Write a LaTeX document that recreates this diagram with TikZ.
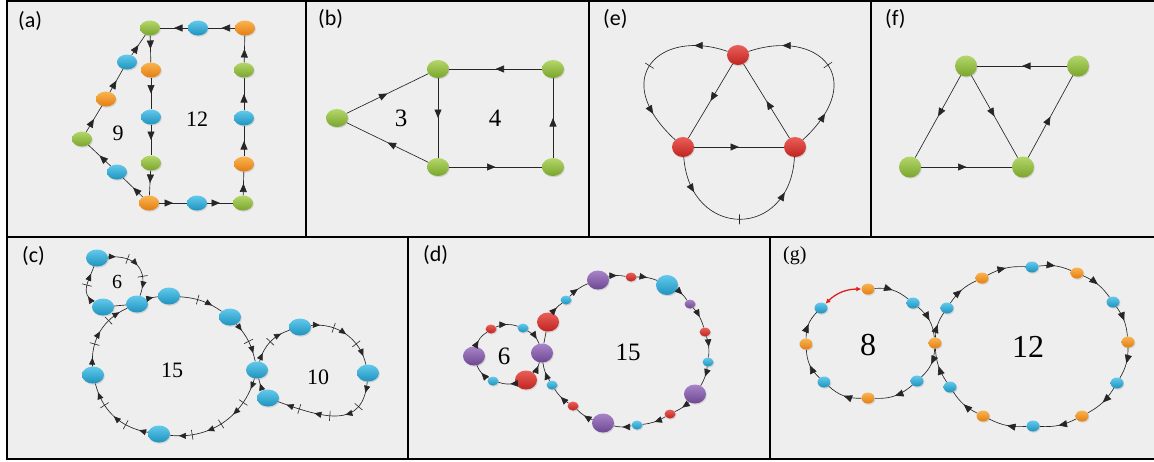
\documentclass[tikz,border=0pt]{standalone}
\usepackage{fontspec}
\setmainfont{Liberation Serif}
\newfontfamily\lblfont{Carlito}
\usetikzlibrary{shapes.geometric,arrows.meta,decorations.markings,shadows}
\definecolor{bg}{HTML}{EEEEEE}
\definecolor{grT}{HTML}{B4D76A}\definecolor{grB}{HTML}{79A52B}
\definecolor{cyT}{HTML}{62C9EC}\definecolor{cyB}{HTML}{1E93BE}
\definecolor{orT}{HTML}{F9B552}\definecolor{orB}{HTML}{E47D10}
\definecolor{rdT}{HTML}{EA5F58}\definecolor{rdB}{HTML}{C02320}
\definecolor{puT}{HTML}{A784C8}\definecolor{puB}{HTML}{6E4792}
\definecolor{redarr}{HTML}{E01E1E}
\def\arl{8.5pt}\def\arwd{7pt}
\newcommand\myarw{\arrow{Triangle[length=\arl,width=\arwd]}}
\newcommand\mytck{\draw[line width=0.6pt] (0pt,-5pt)--(0pt,5pt);}
\tikzset{
  shd/.style={drop shadow={opacity=0.25,shadow xshift=0.8pt,shadow yshift=-1.2pt}},
  fgreen/.style={shd,top color=grT,bottom color=grB,draw=none},
  fcyan/.style={shd,top color=cyT,bottom color=cyB,draw=none},
  forange/.style={shd,top color=orT,bottom color=orB,draw=none},
  fred/.style={shd,top color=rdT,bottom color=rdB,draw=none},
  fpurple/.style={shd,top color=puT,bottom color=puB,draw=none},
  na/.style={ellipse,inner sep=0pt,minimum width=20pt,minimum height=15pt},
  nb/.style={ellipse,inner sep=0pt,minimum width=22pt,minimum height=18pt},
  ne/.style={ellipse,inner sep=0pt,minimum width=22pt,minimum height=20pt},
  nf/.style={ellipse,inner sep=0pt,minimum width=22pt,minimum height=21pt},
  nc/.style={ellipse,inner sep=0pt,minimum width=22pt,minimum height=17pt},
  dbig/.style={ellipse,inner sep=0pt,minimum width=22pt,minimum height=19pt},
  dsm/.style={ellipse,inner sep=0pt,minimum width=11pt,minimum height=9pt},
  gs/.style={ellipse,inner sep=0pt,minimum width=13pt,minimum height=11pt},
  ed/.style={line width=0.65pt,draw=black!85},
  frame/.style={line width=2pt,draw=black},
  plab/.style={anchor=base west,inner sep=0pt,font=\lblfont\fontsize{22}{26}\selectfont},
  numtxt/.style={inner sep=0pt,font=\fontsize{#1}{#1}\selectfont},
  m1/.style={postaction={decorate},decoration={markings,mark=at position #1 with {\myarw}}},
  m1/.default=0.5,
  m2/.style={postaction={decorate},decoration={markings,
     mark=at position 0.4 with {\mytck},mark=at position 0.75 with {\myarw}}},
  m3/.style={postaction={decorate},decoration={markings,
     mark=at position 0.2 with {\myarw},mark=at position 0.5 with {\mytck},
     mark=at position 0.8 with {\myarw}}},
  m5/.style={postaction={decorate},decoration={markings,
     mark=at position 0.12 with {\myarw},mark=at position 0.31 with {\mytck},
     mark=at position 0.5 with {\myarw},mark=at position 0.69 with {\mytck},
     mark=at position 0.88 with {\myarw}}},
  m7/.style={postaction={decorate},decoration={markings,
     mark=at position 0.1 with {\myarw},mark=at position 0.24 with {\mytck},
     mark=at position 0.38 with {\myarw},mark=at position 0.52 with {\mytck},
     mark=at position 0.66 with {\myarw},mark=at position 0.8 with {\mytck},
     mark=at position 0.92 with {\myarw}}},
}
\begin{document}
\begin{tikzpicture}[x=1pt,y=1pt]
\useasboundingbox (0,0) rectangle (1154,-461);
\fill[white] (0,0) rectangle (1154,-461);
\fill[bg] (7,-1) rectangle (1154,-459);
% frame
\draw[frame] (1154,-1) -- (7,-1) -- (7,-459) -- (1154,-459);
\draw[frame] (7,-237) -- (1154,-237);
\draw[frame] (306,-1) -- (306,-237);
\draw[frame] (589,-1) -- (589,-237);
\draw[frame] (871,-1) -- (871,-237);
\draw[frame] (408,-237) -- (408,-459);
\draw[frame] (770,-237) -- (770,-459);
% panel labels
\node[plab] (la) at (18,-27) {(a)};
\node[plab] (lb) at (318,-25) {(b)};
\node[plab] (le) at (603,-25) {(e)};
\node[plab] (lf) at (885,-25) {(f)};
\node[plab] (lc) at (22,-262) {(c)};
\node[plab] (ld) at (423,-261) {(d)};
\node[anchor=base west,inner sep=0pt,font=\fontsize{20}{24}\selectfont] (lg) at (783,-260) {(g)};

% ---------------- (a)
\node[na,fgreen] (a1) at (150,-28) {};
\node[na,fcyan] (a2) at (198,-28) {};
\node[na,forange] (a3) at (245,-28) {};
\node[na,fgreen] (a4) at (244,-70) {};
\node[na,fcyan] (a5) at (244,-118) {};
\node[na,forange] (a6) at (244,-164) {};
\node[na,fgreen] (a7) at (243,-203) {};
\node[na,fcyan] (a8) at (197,-203) {};
\node[na,forange] (a9) at (149,-203) {};
\node[na,forange] (a10) at (151,-70) {};
\node[na,fcyan] (a11) at (151,-117) {};
\node[na,fgreen] (a12) at (151,-163) {};
\node[na,fcyan] (a13) at (127,-62) {};
\node[na,forange] (a14) at (106,-99) {};
\node[na,fgreen] (a15) at (82,-139) {};
\node[na,fcyan] (a16) at (117,-172) {};
\foreach \u/\v in {a3/a2,a2/a1,a1/a10,a10/a11,a11/a12,a12/a9,a9/a8,a8/a7,a7/a6,a6/a5,a5/a4,a4/a3,a9/a16,a16/a15,a15/a14,a14/a13,a13/a1}
  \draw[ed,m1] (\u) -- (\v);
\node[numtxt=22] (t9) at (118,-133) {9};
\node[numtxt=22] (t12a) at (197,-119) {12};

% ---------------- (b)
\node[nb,fgreen] (b1) at (337,-118) {};
\node[nb,fgreen] (b2) at (438,-69) {};
\node[nb,fgreen] (b3) at (553,-69) {};
\node[nb,fgreen] (b4) at (438,-167) {};
\node[nb,fgreen] (b5) at (553,-167) {};
\foreach \u/\v in {b1/b2,b2/b4,b4/b1,b4/b5,b5/b3,b3/b2}
  \draw[ed,m1] (\u) -- (\v);
\node[numtxt=25] (t3) at (401,-118) {3};
\node[numtxt=25] (t4) at (495,-118) {4};

% ---------------- (e)
\node[ne,fred] (e1) at (738,-55) {};
\node[ne,fred] (e2) at (683,-147) {};
\node[ne,fred] (e3) at (795,-147) {};
\foreach \u/\v in {e1/e2,e2/e3,e3/e1}
  \draw[ed,m1] (\u) -- (\v);
\draw[ed,m3] (e1) .. controls (660,-28) and (608,-78) .. (e2);
\draw[ed,m3] (e3) .. controls (870,-78) and (818,-28) .. (e1);
\draw[ed,m3] (e2) .. controls (690,-240) and (790,-240) .. (e3);

% ---------------- (f)
\node[nf,fgreen] (f1) at (966,-66) {};
\node[nf,fgreen] (f2) at (1078,-66) {};
\node[nf,fgreen] (f3) at (910,-167) {};
\node[nf,fgreen] (f4) at (1023,-167) {};
\foreach \u/\v in {f2/f1,f1/f3,f1/f4,f3/f4,f4/f2}
  \draw[ed,m1] (\u) -- (\v);

% ---------------- (c)
\begin{scope}
\def\arl{7pt}\def\arwd{6pt}
\node[nc,fcyan] (c1) at (97,-258) {};
\node[nc,fcyan] (c2) at (103,-307) {};
\node[nc,fcyan] (c3) at (137,-304) {};
\node[nc,fcyan] (c4) at (169,-296) {};
\node[nc,fcyan] (c5) at (230,-317) {};
\node[nc,fcyan] (c6) at (257,-370) {};
\node[nc,fcyan] (c7) at (93,-375) {};
\node[nc,fcyan] (c8) at (159,-434) {};
\node[nc,fcyan] (c9) at (300,-327) {};
\node[nc,fcyan] (c10) at (368,-373) {};
\node[nc,fcyan] (c11) at (268,-398) {};
\draw[ed,m5] (c1) to[out=5,in=70,looseness=1.4] (c3);
\draw[ed] (c3) -- (c2);
\draw[ed,m3] (c2) to[out=150,in=-110,looseness=1.2] (c1);
\draw[ed,m1=0.6] (c3) to[bend left=10] (c4);
\draw[ed,m2] (c4) to[bend left=15] (c5);
\draw[ed,m3] (c5) to[bend left=15] (c6);
\draw[ed,m7] (c6) to[bend left=40] (c8);
\draw[ed,m5] (c8) to[bend left=33] (c7);
\draw[ed,m5] (c7) to[bend left=35] (c3);
\draw[ed,m3] (c6) to[bend left=28] (c9);
\draw[ed,m5] (c9) to[bend left=42] (c10);
\draw[ed,m7] (c10) to[out=-95,in=-20,looseness=1.35] (c11);
\draw[ed,m1=0.6] (c11) to[bend left=10] (c6);
\node[numtxt=20] (t6c) at (117,-282) {6};
\node[numtxt=22] (t15c) at (172,-370) {15};
\node[numtxt=22] (t10c) at (318,-377) {10};
\end{scope}

% ---------------- (d)
\begin{scope}
\def\arl{7.5pt}\def\arwd{6.5pt}
\node[dbig,fpurple] (d1) at (542,-353) {};
\node[dbig,fred] (d2) at (548,-322) {};
\node[dsm,fcyan] (d3) at (566,-300) {};
\node[dbig,fpurple] (d4) at (598,-280) {};
\node[dsm,fred] (d5) at (631,-277) {};
\node[dbig,fcyan,minimum height=20pt] (d6) at (667,-285) {};
\node[dsm,fpurple] (d7) at (690,-304) {};
\node[dsm,fred] (d8) at (705,-332) {};
\node[dsm,fcyan] (d9) at (708,-362) {};
\node[dbig,fpurple] (d10) at (695,-394) {};
\node[dsm,fred] (d11) at (670,-414) {};
\node[dsm,fcyan] (d12) at (637,-425) {};
\node[dbig,fpurple] (d13) at (603,-423) {};
\node[dsm,fred] (d14) at (573,-406) {};
\node[dsm,fcyan] (d15) at (552,-385) {};
\node[dbig,fpurple] (d16) at (474,-356) {};
\node[dsm,fred] (d17) at (491,-329) {};
\node[dsm,fcyan] (d18) at (523,-328) {};
\node[dbig,fred] (d19) at (526,-380) {};
\node[dsm,fcyan] (d20) at (493,-381) {};
\draw[ed] (d1) -- (d2);
\foreach \u/\v in {d2/d3,d3/d4,d4/d5,d5/d6,d6/d7,d7/d8,d8/d9,d9/d10,d10/d11,d11/d12,d12/d13,d13/d14,d14/d15,d15/d1}
  \draw[ed,m1] (\u) to[bend left=12] (\v);
\draw[ed,m1=0.35] (d16) to[bend left=20] (d17);
\draw[ed,m1] (d17) to[bend left=20] (d18);
\draw[ed,m1=0.7] (d18) to[bend left=20] (d1);
\draw[ed,m1=0.7] (d19) to[bend right=15] (d1);
\draw[ed,m1=0.3] (d19) to[bend left=15] (d20);
\draw[ed,m1] (d20) to[bend left=20] (d16);
\node[numtxt=25] (t6d) at (504,-356) {6};
\node[numtxt=25] (t15d) at (628,-352) {15};
\end{scope}

% ---------------- (g)
\node[gs,forange] (g1) at (868,-289) {};
\node[gs,fcyan] (g2) at (913,-303) {};
\node[gs,forange] (g3) at (935,-343) {};
\node[gs,fcyan] (g4) at (917,-381) {};
\node[gs,forange] (g5) at (868,-398) {};
\node[gs,fcyan] (g6) at (824,-382) {};
\node[gs,forange] (g7) at (806,-344) {};
\node[gs,fcyan] (g8) at (821,-308) {};
\node[gs,fcyan] (g9) at (947,-308) {};
\node[gs,forange] (g10) at (982,-278) {};
\node[gs,fcyan] (g11) at (1032,-267) {};
\node[gs,forange] (g12) at (1077,-273) {};
\node[gs,fcyan] (g13) at (1113,-302) {};
\node[gs,forange] (g14) at (1128,-342) {};
\node[gs,fcyan] (g15) at (1117,-383) {};
\node[gs,forange] (g16) at (1082,-416) {};
\node[gs,fcyan] (g17) at (1033,-426) {};
\node[gs,forange] (g18) at (983,-416) {};
\node[gs,fcyan] (g19) at (950,-387) {};
\foreach \u/\v in {g1/g2,g2/g3,g3/g4,g4/g5,g5/g6,g6/g7,g7/g8}
  \draw[ed,m1] (\u) to[bend left=22] (\v);
\foreach \u/\v in {g3/g9,g9/g10,g10/g11,g11/g12,g12/g13,g13/g14,g14/g15,g15/g16,g16/g17,g17/g18,g18/g19,g19/g3}
  \draw[ed,m1] (\u) to[bend left=15] (\v);
\draw[redarr,line width=1.3pt,{Latex[length=5pt,width=5pt]}-{Latex[length=5pt,width=5pt]}] (g8) to[bend left=22] (g1);
\node[numtxt=32] (t8g) at (868,-345) {8};
\node[numtxt=32] (t12g) at (1028,-347) {12};
\end{tikzpicture}
\end{document}
